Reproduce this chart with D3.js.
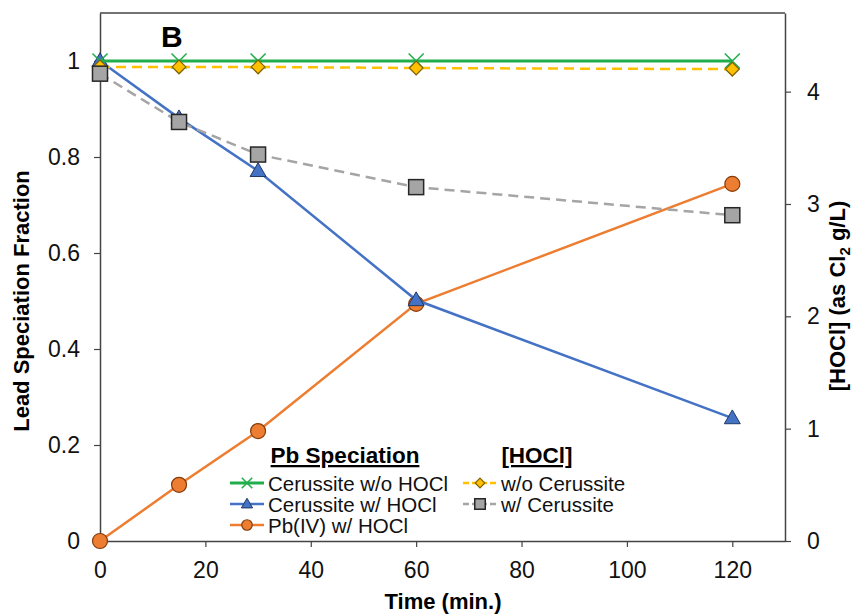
<!DOCTYPE html>
<html lang="en">
<head>
<meta charset="utf-8">
<title>Lead speciation</title>
<script src="https://cdn.jsdelivr.net/npm/d3@7"></script>
<style>
  body { margin: 0; background: #fff; }
  text { font-family: "Liberation Sans", Arial, sans-serif; }
</style>
</head>
<body>
<div id="chart"></div>
<script>
// data
var times = [0, 15, 30, 60, 120]
var cerNoHOCl = [1, 1, 1, 1, 1]
var cerHOCl = [1, 0.881, 0.771, 0.502, 0.256]
var pbIV = [0, 0.117, 0.229, 0.494, 0.744]
var hoclNoCer = [4.22, 4.22, 4.22, 4.21, 4.20]
var hoclCer = [4.16, 3.73, 3.44, 3.15, 2.90]
var xTicks = [0, 20, 40, 60, 80, 100, 120]
var yTicks = [0, 0.2, 0.4, 0.6, 0.8, 1]
var y2Ticks = [0, 1, 2, 3, 4]

var w = 853, h = 614
var mLeft = 100, mRight = 785, mTop = 13, mBottom = 541
var axisCol = "#444"

var svg = d3.select("#chart").append("svg")
    .attr("width", w).attr("height", h)

var x = d3.scaleLinear().domain([0, 130]).range([mLeft, mRight])
var y = d3.scaleLinear().domain([0, 1.1]).range([mBottom, mTop])
var y2 = d3.scaleLinear().domain([0, 4.7]).range([mBottom, mTop])

// frame top line
svg.append("line").attr("x1", mLeft).attr("x2", mRight).attr("y1", mTop).attr("y2", mTop)
    .attr("stroke", axisCol).attr("stroke-width", 1.5)

function styleAxis(g) {
    g.select(".domain").attr("stroke", axisCol).attr("stroke-width", 1.5)
    g.selectAll(".tick line").attr("stroke", axisCol).attr("stroke-width", 1.2)
    g.selectAll(".tick text").attr("font-size", "23px").attr("fill", "#111")
        .style("font-family", "Liberation Sans, Arial, sans-serif")
}

svg.append("g").attr("transform", "translate(0," + mBottom + ")")
    .call(d3.axisBottom(x).tickValues(xTicks).tickSize(6).tickSizeOuter(0).tickPadding(15))
    .call(styleAxis)

svg.append("g").attr("transform", "translate(" + mLeft + ",0)")
    .call(d3.axisLeft(y).tickValues(yTicks).tickFormat(d3.format("")).tickSize(6).tickSizeOuter(0).tickPadding(14))
    .call(styleAxis)

svg.append("g").attr("transform", "translate(" + mRight + ",0)")
    .call(d3.axisRight(y2).tickValues(y2Ticks).tickFormat(d3.format("d")).tickSize(6).tickSizeOuter(0).tickPadding(16))
    .call(styleAxis)

// titles
svg.append("text").attr("x", 443).attr("y", 609)
    .attr("text-anchor", "middle").attr("font-size", "22px").attr("font-weight", "bold")
    .text("Time (min.)")

svg.append("text").attr("transform", "translate(29,301) rotate(-90)")
    .attr("text-anchor", "middle").attr("font-size", "22px").attr("font-weight", "bold")
    .text("Lead Speciation Fraction")

var rt = svg.append("text").attr("transform", "translate(845,296) rotate(-90)")
    .attr("text-anchor", "middle").attr("font-size", "22px").attr("font-weight", "bold")
rt.append("tspan").text("[HOCl] (as Cl")
rt.append("tspan").attr("font-size", "15px").attr("dy", 5).text("2")
rt.append("tspan").attr("dy", -5).text(" g/L)")

svg.append("text").attr("x", 161).attr("y", 47).attr("font-size", "30px")
    .attr("font-weight", "bold").text("B")

// marker drawers, k scales the size (legend uses smaller ones)
function drawMarker(g, type, cx, cy, k) {
    k = k || 1
    if (type == "x") {
        g.append("path").attr("d", d3.symbol().type(d3.symbolX).size(150 * k * k)())
            .attr("transform", "translate(" + cx + "," + cy + ")")
            .attr("fill", "none").attr("stroke", "#1fae4b").attr("stroke-width", 1.5)
    } else if (type == "tri") {
        g.append("path").attr("d", d3.symbol().type(d3.symbolTriangle).size(110 * k * k)())
            .attr("transform", "translate(" + cx + "," + (cy + k) + ")")
            .attr("fill", "#4472c4").attr("stroke", "#203864").attr("stroke-width", 1)
    } else if (type == "circle") {
        g.append("circle").attr("cx", cx).attr("cy", cy).attr("r", 7.5 * k)
            .attr("fill", "#ed7d31").attr("stroke", "#843c0c").attr("stroke-width", 1.2)
    } else if (type == "diamond") {
        g.append("path").attr("d", d3.symbol().type(d3.symbolDiamond2).size(120 * k * k)())
            .attr("transform", "translate(" + cx + "," + cy + ")")
            .attr("fill", "#ffc000").attr("stroke", "#7f6000").attr("stroke-width", 1.2)
    } else if (type == "square") {
        g.append("rect").attr("x", cx - 7.5 * k).attr("y", cy - 7.5 * k)
            .attr("width", 15 * k).attr("height", 15 * k)
            .attr("fill", "#a5a5a5").attr("stroke", "#262626").attr("stroke-width", 1.5)
    }
}

var series = [
    { name: "Cerussite w/o HOCl", vals: cerNoHOCl, scale: y, color: "#1fae4b", dash: null, width: 3, mk: "x" },
    { name: "Cerussite w/ HOCl", vals: cerHOCl, scale: y, color: "#4472c4", dash: null, width: 2.5, mk: "tri" },
    { name: "Pb(IV) w/ HOCl", vals: pbIV, scale: y, color: "#ed7d31", dash: null, width: 2.5, mk: "circle" },
    { name: "w/o Cerussite", vals: hoclNoCer, scale: y2, color: "#ffc000", dash: "10,6", width: 2.5, mk: "diamond" },
    { name: "w/ Cerussite", vals: hoclCer, scale: y2, color: "#a5a5a5", dash: "10,6", width: 2.5, mk: "square" }
]

var drawOrder = [2, 1, 0, 3, 4]
drawOrder.forEach(function(i) {
    var s = series[i]
    var pts = times.map(function(t, j) { return [t, s.vals[j]] })
    var line = d3.line().x(function(d) { return x(d[0]) }).y(function(d) { return s.scale(d[1]) })
    var g = svg.append("g")
    g.append("path").datum(pts).attr("d", line)
        .attr("fill", "none").attr("stroke", s.color).attr("stroke-width", s.width)
        .attr("stroke-dasharray", s.dash)
    pts.forEach(function(p) { drawMarker(g, s.mk, x(p[0]), s.scale(p[1])) })
})

// legend
var lg = svg.append("g")
lg.append("text").attr("x", 345).attr("y", 463).attr("text-anchor", "middle")
    .attr("font-size", "22.5px").attr("font-weight", "bold").attr("text-decoration", "underline")
    .text("Pb Speciation")
lg.append("text").attr("x", 537).attr("y", 463).attr("text-anchor", "middle")
    .attr("font-size", "22.5px").attr("font-weight", "bold").attr("text-decoration", "underline")
    .text("[HOCl]")

var legendPos = [[230, 483], [230, 504], [230, 525], [463, 483], [463, 504]]
series.forEach(function(s, i) {
    var lx = legendPos[i][0], ly = legendPos[i][1]
    lg.append("line").attr("x1", lx).attr("x2", lx + 34).attr("y1", ly).attr("y2", ly)
        .attr("stroke", s.color).attr("stroke-width", s.width)
        .attr("stroke-dasharray", s.dash ? "6,3" : null)
    drawMarker(lg, s.mk, lx + 17, ly, 0.7)
    lg.append("text").attr("x", lx + 38).attr("y", ly + 7.5)
        .attr("font-size", "20.5px").attr("fill", "#111").text(s.name)
})
</script>
</body>
</html>
